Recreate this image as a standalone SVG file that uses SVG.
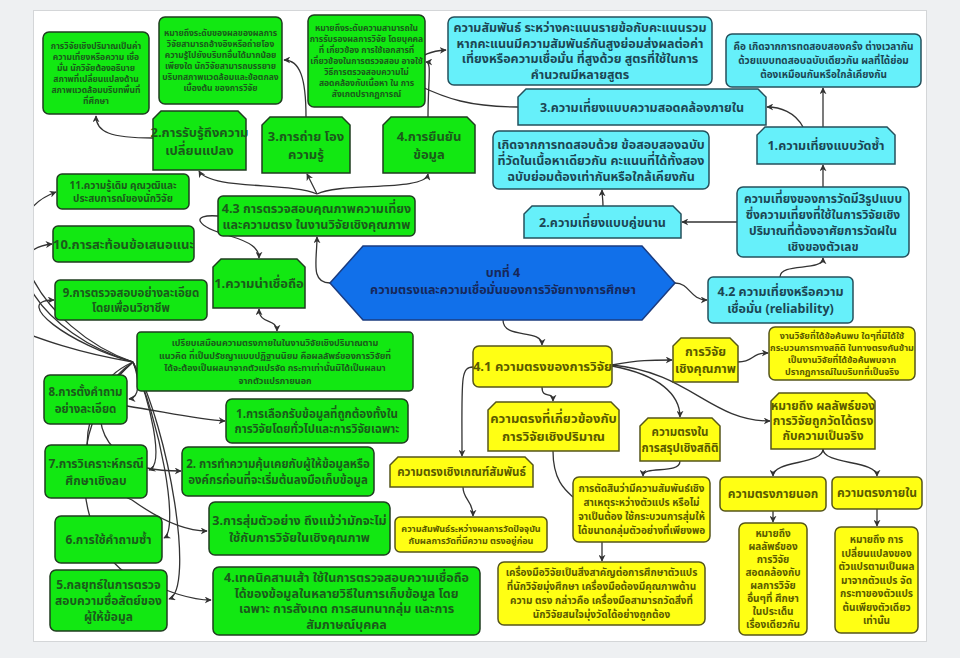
<svg xmlns="http://www.w3.org/2000/svg" width="960" height="658" viewBox="0 0 960 658">
<defs>
<style>
text{font-family:"Noto Sans Thai","Tahoma","DejaVu Sans",sans-serif;font-weight:bold;text-anchor:middle}
.g{fill:#12e812;stroke:#1f3d1f;stroke-width:1.5}
.c{fill:#66f0fa;stroke:#24505c;stroke-width:1.5}
.y{fill:#ffff14;stroke:#55551a;stroke-width:1.5}
.tg{fill:#1b5a1b}
.tc{fill:#1c4654}
.ty{fill:#5a5a00}
.e{fill:none;stroke:#333;stroke-width:1.3}
</style>
<marker id="a" viewBox="0 0 10 10" refX="9" refY="5" markerWidth="7" markerHeight="7" markerUnits="userSpaceOnUse" orient="auto-start-reverse"><path d="M0,0 L10,5 L0,10 L3,5 z" fill="#333"/></marker>
<clipPath id="cv"><rect x="34" y="11" width="892" height="630"/></clipPath>
</defs>
<rect width="960" height="658" fill="#eef0f2"/>
<rect x="33.5" y="10.5" width="893" height="631" fill="#fff" stroke="#d4d6d8"/>
<g id="connectors" clip-path="url(#cv)">
<path class="e" d="M153,138 C110,138 96,132 96,116" marker-end="url(#a)"/>
<path class="e" d="M317,194 C290,182 210,190 199,171" marker-end="url(#a)"/>
<path class="e" d="M317,194 L307,174" marker-end="url(#a)"/>
<path class="e" d="M317,194 C340,182 425,192 428,174" marker-end="url(#a)"/>
<path class="e" d="M306,117 C306,78 300,60 284,60" marker-end="url(#a)"/>
<path class="e" d="M428,117 C428,80 432,62 426,62" marker-end="url(#a)"/>
<path class="e" d="M518,107 C470,107 445,98 420,86 C405,70 415,52 446,50" marker-end="url(#a)"/>
<path class="e" d="M823,127 L823,88" marker-end="url(#a)"/>
<path class="e" d="M803,127 C795,112 780,107 767,107" marker-end="url(#a)"/>
<path class="e" d="M823,187 L823,165" marker-end="url(#a)"/>
<path class="e" d="M737,222 L682,222" marker-end="url(#a)"/>
<path class="e" d="M603,206 C603,198 602,196 602,190" marker-end="url(#a)"/>
<path class="e" d="M780,277 C780,262 823,272 823,258" marker-end="url(#a)"/>
<path class="e" d="M675,283 C690,283 690,300 707,300" marker-end="url(#a)"/>
<path class="e" d="M330,283 C310,283 317,260 317,237" marker-end="url(#a)"/>
<path class="e" d="M218,216 C190,214 195,226 230,236 C250,242 259,248 259,258" marker-end="url(#a)"/>
<path class="e" d="M259,309 C259,325 277,318 277,331" marker-start="url(#a)" marker-end="url(#a)"/>
<path class="e" d="M503,320 C503,340 542,328 542,345" marker-end="url(#a)"/>
<path class="e" d="M133,362 C40,330 -20,220 56,192" marker-end="url(#a)"/>
<path class="e" d="M133,362 C40,335 -10,250 52,244" marker-end="url(#a)"/>
<path class="e" d="M133,362 C70,345 10,300 54,300" marker-end="url(#a)"/>
<path class="e" d="M133,362 C60,350 20,330 -10,320"/>
<path class="e" d="M133,362 C140,380 140,398 129,399" marker-end="url(#a)"/>
<path class="e" d="M133,362 C150,400 165,465 149,470" marker-end="url(#a)"/>
<path class="e" d="M133,362 C160,420 180,530 164,538" marker-end="url(#a)"/>
<path class="e" d="M133,362 C170,430 195,590 169,599" marker-end="url(#a)"/>
<path class="e" d="M133,362 C95,380 100,402 127,406 C165,412 200,420 225,421" marker-end="url(#a)"/>
<path class="e" d="M133,362 C85,395 90,450 147,468 C160,471 170,471 181,471" marker-end="url(#a)"/>
<path class="e" d="M133,362 C65,420 80,480 132,500 C160,520 185,531 207,531" marker-end="url(#a)"/>
<path class="e" d="M133,362 C55,430 80,560 140,580 C170,592 190,600 211,600" marker-end="url(#a)"/>
<path class="e" d="M612,365 C640,360 650,360 672,360" marker-end="url(#a)"/>
<path class="e" d="M738,362 C755,362 750,353 768,353" marker-end="url(#a)"/>
<path class="e" d="M612,365 C690,372 710,421 770,421" marker-end="url(#a)"/>
<path class="e" d="M612,366 C660,375 680,395 680,417" marker-end="url(#a)"/>
<path class="e" d="M542,387 C542,400 553,390 553,401" marker-end="url(#a)"/>
<path class="e" d="M473,367 C460,367 462,380 462,456" marker-end="url(#a)"/>
<path class="e" d="M553,451 C553,480 565,490 573,497"/>
<path class="e" d="M680,461 C680,475 643,465 643,476" marker-end="url(#a)"/>
<path class="e" d="M463,487 C463,500 473,500 473,516" marker-end="url(#a)"/>
<path class="e" d="M602,542 L602,561" marker-end="url(#a)"/>
<path class="e" d="M823,449 C823,465 773,460 773,476" marker-end="url(#a)"/>
<path class="e" d="M823,449 C823,465 877,460 877,476" marker-end="url(#a)"/>
<path class="e" d="M773,511 L773,522" marker-end="url(#a)"/>
<path class="e" d="M877,509 L877,526" marker-end="url(#a)"/>
</g>
<g id="n-quant" ><rect class="g" x="43" y="32" width="106" height="82" rx="6"/><text class="tg" font-size="8.5"><tspan x="96" y="48.7">การวิจัยเชิงปริมาณเป็นค่า</tspan><tspan x="96" y="59.7">ความเที่ยงหรือความ เชื่อ</tspan><tspan x="96" y="70.7">มั่น นักวิจัยต้องอธิบาย</tspan><tspan x="96" y="81.7">สภาพที่เปลี่ยนแปลงด้าน</tspan><tspan x="96" y="92.7">สภาพแวดล้อมบริบทพื้นที่</tspan><tspan x="96" y="103.7">ที่ศึกษา</tspan></text></g>
<g id="n-transfer-desc"><rect class="g" x="159" y="17" width="123" height="87" rx="6"/><text class="tg" font-size="8.5"><tspan x="220.5" y="36.2">หมายถึงระดับของผลของผลการ</tspan><tspan x="220.5" y="47.2">วิจัยสามารถอ้างอิงหรือถ่ายโอง</tspan><tspan x="220.5" y="58.2">ความรู้ไปยังบริบทอื่นได้มากน้อย</tspan><tspan x="220.5" y="69.2">เพียงใด นักวิจัยสามารถบรรยาย</tspan><tspan x="220.5" y="80.2">บริบทสภาพแวดล้อมและข้อตกลง</tspan><tspan x="220.5" y="91.2">เบื้องต้น ของการวิจัย</tspan></text></g>
<g id="n-confirm-desc"><rect class="g" x="308" y="15" width="117" height="92" rx="6"/><text class="tg" font-size="8.5"><tspan x="366.5" y="31.2">หมายถึงระดับความสามารถใน</tspan><tspan x="366.5" y="42.2">การรับรองผลการวิจัย โดยบุคคล</tspan><tspan x="366.5" y="53.2">ที่ เกี่ยวข้อง การใช้เอกสารที่</tspan><tspan x="366.5" y="64.2">เกี่ยวข้องในการตรวจสอบ อาจใช้</tspan><tspan x="366.5" y="75.2">วิธีการตรวจสอบความไม่</tspan><tspan x="366.5" y="86.2">สอดคล้องกับเนื้อหา ใน การ</tspan><tspan x="366.5" y="97.2">สังเกตปรากฏการณ์</tspan></text></g>
<g id="n-q2"><path class="g" d="M161,111 L238,111 L246,119 L246,170 L153,170 L153,119 Z"/><text class="tg" font-size="13"><tspan x="199.5" y="136.5">2.การรับรู้ถึงความ</tspan><tspan x="199.5" y="154.5">เปลี่ยนแปลง</tspan></text></g>
<g id="n-q3"><path class="g" d="M270,117 L342,117 L350,125 L350,173 L262,173 L262,125 Z"/><text class="tg" font-size="13"><tspan x="306" y="141">3.การถ่าย โอง</tspan><tspan x="306" y="159">ความรู้</tspan></text></g>
<g id="n-q4"><path class="g" d="M391,117 L467,117 L475,125 L475,173 L383,173 L383,125 Z"/><text class="tg" font-size="13"><tspan x="429" y="141">4.การยืนยัน</tspan><tspan x="429" y="159">ข้อมูล</tspan></text></g>
<g id="n-s11"><rect class="g" x="57" y="174" width="132" height="35" rx="5"/><text class="tg" font-size="10"><tspan x="123" y="188.5">11.ความรู้เดิม คุณวุฒิและ</tspan><tspan x="123" y="202">ประสบการณ์ของนักวิจัย</tspan></text></g>
<g id="n-s10"><rect class="g" x="53" y="226" width="141" height="36" rx="5"/><text class="tg" font-size="13" x="123.5" y="248.5">10.การสะท้อนข้อเสนอแนะ</text></g>
<g id="n-s9"><rect class="g" x="55" y="280" width="152" height="40" rx="5"/><text class="tg" font-size="11.5"><tspan x="131" y="296.5">9.การตรวจสอบอย่างละเอียด</tspan><tspan x="131" y="312">โดยเพื่อนวิชาชีพ</tspan></text></g>
<g id="n-43"><rect class="g" x="218" y="196" width="197" height="40" rx="5"/><text class="tg" font-size="12.5"><tspan x="316.5" y="212.5">4.3 การตรวจสอบคุณภาพความเที่ยง</tspan><tspan x="316.5" y="229">และความตรง ในงานวิจัยเชิงคุณภาพ</tspan></text></g>
<g id="n-cred"><path class="g" d="M221,259 L297,259 L305,267 L305,308 L213,308 L213,267 Z"/><text class="tg" font-size="13" x="259" y="288">1.ความน่าเชื่อถือ</text></g>
<g id="n-cred-desc"><rect class="g" x="137" y="332" width="276" height="59" rx="4"/><text class="tg" font-size="9"><tspan x="275" y="346">เปรียบเสมือนความตรงภายในในงานวิจัยเชิงปริมาณตาม</tspan><tspan x="275" y="358.5">แนวคิด ที่เป็นปรัชญาแบบปฏิฐานนิยม คือผลลัพธ์ของการวิจัยที่</tspan><tspan x="275" y="371">ได้จะต้องเป็นผลมาจากตัวแปรจัด กระทาเท่านั้นมิได้เป็นผลมา</tspan><tspan x="275" y="383.5">จากตัวแปรภายนอก</tspan></text></g>
<g id="n-s8"><rect class="g" x="44" y="375" width="83" height="49" rx="6"/><text class="tg" font-size="11.5"><tspan x="85.5" y="395.5">8.การตั้งคำถาม</tspan><tspan x="85.5" y="412.5">อย่างละเอียด</tspan></text></g>
<g id="n-s1"><rect class="g" x="226" y="399" width="182" height="44" rx="6"/><text class="tg" font-size="11.5"><tspan x="317" y="417.5">1.การเลือกรับข้อมูลที่ถูกต้องทั้งใน</tspan><tspan x="317" y="433">การวิจัยโดยทั่วไปและการวิจัยเฉพาะ</tspan></text></g>
<g id="n-s7"><rect class="g" x="45" y="445" width="102" height="53" rx="6"/><text class="tg" font-size="12"><tspan x="96" y="467.5">7.การวิเคราะห์กรณี</tspan><tspan x="96" y="484.5">ศึกษาเชิงลบ</tspan></text></g>
<g id="n-s2"><rect class="g" x="182" y="447" width="192" height="49" rx="6"/><text class="tg" font-size="11.5"><tspan x="278" y="468">2. การทำความคุ้นเคยกับผู้ให้ข้อมูลหรือ</tspan><tspan x="278" y="483.5">องค์กรก่อนที่จะเริ่มต้นลงมือเก็บข้อมูล</tspan></text></g>
<g id="n-s3"><rect class="g" x="209" y="502" width="181" height="53" rx="6"/><text class="tg" font-size="12.5"><tspan x="299.5" y="524.5">3.การสุ่มตัวอย่าง ถึงแม้ว่ามักจะไม่</tspan><tspan x="299.5" y="541.5">ใช้กับการวิจัยในเชิงคุณภาพ</tspan></text></g>
<g id="n-s6"><rect class="g" x="55" y="516" width="107" height="47" rx="6"/><text class="tg" font-size="12" x="108.5" y="543.5">6.การใช้คำถามซ้ำ</text></g>
<g id="n-s5"><rect class="g" x="50" y="570" width="117" height="61" rx="6"/><text class="tg" font-size="12"><tspan x="108.5" y="589">5.กลยุทธ์ในการตรวจ</tspan><tspan x="108.5" y="605">สอบความซื่อสัตย์ของ</tspan><tspan x="108.5" y="621">ผู้ให้ข้อมูล</tspan></text></g>
<g id="n-s4"><rect class="g" x="213" y="567" width="267" height="68" rx="6"/><text class="tg" font-size="12.5"><tspan x="346.5" y="582.3">4.เทคนิคสามเส้า ใช้ในการตรวจสอบความเชื่อถือ</tspan><tspan x="346.5" y="597.8">ได้ของข้อมูลในหลายวิธีในการเก็บข้อมูล โดย</tspan><tspan x="346.5" y="613.3">เฉพาะ การสังเกต การสนทนากลุ่ม และการ</tspan><tspan x="346.5" y="628.8">สัมภาษณ์บุคคล</tspan></text></g>
<g id="n-root"><path d="M330,283 L363,246 L642,246 L675,283 L642,320 L363,320 Z" fill="#1170ea" stroke="#1b3c80" stroke-width="1.5"/><text fill="#17285a" font-size="12.5"><tspan x="503" y="277">บทที่ 4</tspan><tspan x="503" y="294">ความตรงและความเชื่อมั่นของการวิจัยทางการศึกษา</tspan></text></g>
<g id="n-internal-desc"><rect class="c" x="448" y="17" width="264" height="68" rx="6"/><text class="tc" font-size="12.5"><tspan x="580" y="32.3">ความสัมพันธ์ ระหว่างคะแนนรายข้อกับคะแนนรวม</tspan><tspan x="580" y="47.8">หากคะแนนมีความสัมพันธ์กันสูงย่อมส่งผลต่อค่า</tspan><tspan x="580" y="63.3">เที่ยงหรือความเชื่อมั่น ที่สูงด้วย สูตรที่ใช้ในการ</tspan><tspan x="580" y="78.8">คำนวณมีหลายสูตร</tspan></text></g>
<g id="n-retest-desc"><rect class="c" x="726" y="34" width="195" height="53" rx="6"/><text class="tc" font-size="10"><tspan x="823.5" y="50.2">คือ เกิดจากการทดสอบสองครั้ง ต่างเวลากัน</tspan><tspan x="823.5" y="64.2">ด้วยแบบทดสอบฉบับเดียวกัน ผลที่ได้ย่อม</tspan><tspan x="823.5" y="78.2">ต้องเหมือนกันหรือใกล้เคียงกัน</tspan></text></g>
<g id="n-internal"><path class="c" d="M526,89 L758,89 L766,97 L766,125 L518,125 L518,97 Z"/><text class="tc" font-size="12.5" x="642" y="111.5">3.ความเที่ยงแบบความสอดคล้องภายใน</text></g>
<g id="n-retest"><path class="c" d="M765,127 L887,127 L895,135 L895,164 L757,164 L757,135 Z"/><text class="tc" font-size="12.5" x="826" y="150">1.ความเที่ยงแบบวัดซ้ำ</text></g>
<g id="n-parallel-desc"><rect class="c" x="493" y="131" width="216" height="58" rx="6"/><text class="tc" font-size="12.5"><tspan x="601" y="148.5">เกิดจากการทดสอบด้วย ข้อสอบสองฉบับ</tspan><tspan x="601" y="164.5">ที่วัดในเนื้อหาเดียวกัน คะแนนที่ได้ทั้งสอง</tspan><tspan x="601" y="180.5">ฉบับย่อมต้องเท่ากันหรือใกล้เคียงกัน</tspan></text></g>
<g id="n-parallel"><path class="c" d="M532,206 L673,206 L681,214 L681,238 L524,238 L524,214 Z"/><text class="tc" font-size="12.5" x="602.5" y="226.5">2.ความเที่ยงแบบคู่ขนาน</text></g>
<g id="n-rel-desc"><rect class="c" x="737" y="187" width="172" height="70" rx="6"/><text class="tc" font-size="12"><tspan x="823" y="202.5">ความเที่ยงของการวัดมี3รูปแบบ</tspan><tspan x="823" y="218.5">ซึ่งความเที่ยงที่ใช้ในการวิจัยเชิง</tspan><tspan x="823" y="234.5">ปริมาณที่ต้องอาศัยการวัดฝใน</tspan><tspan x="823" y="250.5">เชิงของตัวเลข</tspan></text></g>
<g id="n-42"><rect class="c" x="708" y="277" width="145" height="46" rx="5"/><text class="tc" font-size="12.5"><tspan x="780.5" y="296">4.2 ความเที่ยงหรือความ</tspan><tspan x="780.5" y="313">เชื่อมั่น (reliability)</tspan></text></g>
<g id="n-41"><rect class="y" x="473" y="346" width="139" height="41" rx="6"/><text class="ty" font-size="13" x="542.5" y="371">4.1 ความตรงของการวิจัย</text></g>
<g id="n-qual"><path class="y" d="M681,338 L730,338 L738,346 L738,382 L673,382 L673,346 Z"/><text class="ty" font-size="12.5"><tspan x="705.5" y="356">การวิจัย</tspan><tspan x="705.5" y="373">เชิงคุณภาพ</tspan></text></g>
<g id="n-qual-desc"><rect class="y" x="769" y="327" width="146" height="53" rx="6"/><text class="ty" font-size="9"><tspan x="842" y="338.8">งานวิจัยที่ได้ข้อค้นพบ ใดๆที่มิได้ใช้</tspan><tspan x="842" y="350.8">กระบวนการทางสถิติ ในทางตรงกันข้าม</tspan><tspan x="842" y="362.8">เป็นงานวิจัยที่ได้ข้อค้นพบจาก</tspan><tspan x="842" y="374.8">ปรากฏการณ์ในบริบทที่เป็นจริง</tspan></text></g>
<g id="n-quantval"><path class="y" d="M496,402 L611,402 L619,410 L619,451 L488,451 L488,410 Z"/><text class="ty" font-size="13"><tspan x="553.5" y="422.5">ความตรงที่เกี่ยวข้องกับ</tspan><tspan x="553.5" y="440.5">การวิจัยเชิงปริมาณ</tspan></text></g>
<g id="n-stat"><path class="y" d="M648,418 L712,418 L720,426 L720,461 L640,461 L640,426 Z"/><text class="ty" font-size="11.5"><tspan x="680" y="435.5">ความตรงใน</tspan><tspan x="680" y="451.5">การสรุปเชิงสถิติ</tspan></text></g>
<g id="n-meaning"><path class="y" d="M779,393 L867,393 L875,401 L875,449 L771,449 L771,401 Z"/><text class="ty" font-size="12"><tspan x="823" y="410.4">หมายถึง ผลลัพธ์ของ</tspan><tspan x="823" y="425.4">การวิจัยถูกวัดได้ตรง</tspan><tspan x="823" y="440.4">กับความเป็นจริง</tspan></text></g>
<g id="n-criterion"><path class="y" d="M398,457 L525,457 L533,465 L533,487 L390,487 L390,465 Z"/><text class="ty" font-size="11.5" x="461.5" y="476">ความตรงเชิงเกณฑ์สัมพันธ์</text></g>
<g id="n-criterion-desc"><rect class="y" x="395" y="517" width="152" height="35" rx="5"/><text class="ty" font-size="9"><tspan x="471" y="531.8">ความสัมพันธ์ระหว่างผลการวัดปัจจุบัน</tspan><tspan x="471" y="543.8">กับผลการวัดที่มีความ ตรงอยู่ก่อน</tspan></text></g>
<g id="n-stat-desc"><rect class="y" x="573" y="477" width="137" height="65" rx="6"/><text class="ty" font-size="10"><tspan x="641.5" y="492.2">การตัดสินว่ามีความสัมพันธ์เชิง</tspan><tspan x="641.5" y="506.2">สาเหตุระหว่างตัวแปร หรือไม่</tspan><tspan x="641.5" y="520.2">จาเป็นต้อง ใช้กระบวนการสุ่มให้</tspan><tspan x="641.5" y="534.2">ได้ขนาดกลุ่มตัวอย่างที่เพียงพอ</tspan></text></g>
<g id="n-tool"><rect class="y" x="498" y="562" width="207" height="63" rx="6"/><text class="ty" font-size="10"><tspan x="601.5" y="576.2">เครื่องมือวิจัยเป็นสิ่งสาคัญต่อการศึกษาตัวแปร</tspan><tspan x="601.5" y="590.2">ที่นักวิจัยมุ่งศึกษา เครื่องมือต้องมีคุณภาพด้าน</tspan><tspan x="601.5" y="604.2">ความ ตรง กล่าวคือ เครื่องมือสามารถวัดสิ่งที่</tspan><tspan x="601.5" y="618.2">นักวิจัยสนใจมุ่งวัดได้อย่างถูกต้อง</tspan></text></g>
<g id="n-ext"><rect class="y" x="720" y="477" width="106" height="34" rx="5"/><text class="ty" font-size="12" x="773" y="498">ความตรงภายนอก</text></g>
<g id="n-int"><rect class="y" x="832" y="477" width="90" height="32" rx="5"/><text class="ty" font-size="12" x="877" y="497">ความตรงภายใน</text></g>
<g id="n-ext-desc"><rect class="y" x="739" y="523" width="68" height="112" rx="6"/><text class="ty" font-size="10"><tspan x="773" y="537.2">หมายถึง</tspan><tspan x="773" y="550.2">ผลลัพธ์ของ</tspan><tspan x="773" y="563.2">การวิจัย</tspan><tspan x="773" y="576.2">สอดคล้องกับ</tspan><tspan x="773" y="589.2">ผลการวิจัย</tspan><tspan x="773" y="602.2">อื่นๆที่ ศึกษา</tspan><tspan x="773" y="615.2">ในประเด็น</tspan><tspan x="773" y="628.2">เรื่องเดียวกัน</tspan></text></g>
<g id="n-int-desc"><rect class="y" x="835" y="527" width="83" height="106" rx="6"/><text class="ty" font-size="10"><tspan x="876.5" y="543.2">หมายถึง การ</tspan><tspan x="876.5" y="556.7">เปลี่ยนแปลงของ</tspan><tspan x="876.5" y="570.2">ตัวแปรตามเป็นผล</tspan><tspan x="876.5" y="583.7">มาจากตัวแปร จัด</tspan><tspan x="876.5" y="597.2">กระทาของตัวแปร</tspan><tspan x="876.5" y="610.7">ต้นเพียงตัวเดียว</tspan><tspan x="876.5" y="624.2">เท่านั้น</tspan></text></g>
</svg>
